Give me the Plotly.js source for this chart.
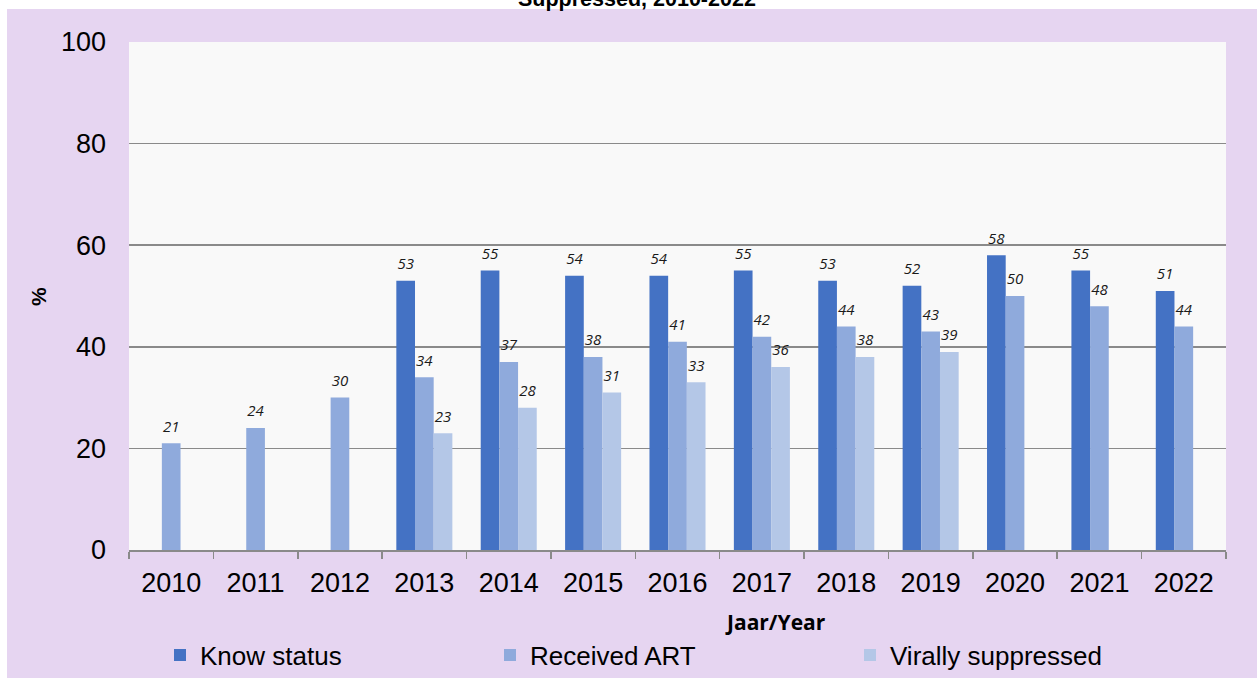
<!DOCTYPE html>
<html>
<head>
<meta charset="utf-8">
<script src="https://cdn.plot.ly/plotly-3.0.1.min.js"></script>
<style>
html,body{margin:0;padding:0;background:#ffffff;}
#chart{width:1257px;height:678px;}
</style>
</head>
<body>
<div id="chart"></div>
<script>
// ---- data ----
var years = ['2010','2011','2012','2013','2014','2015','2016','2017','2018','2019','2020','2021','2022'];
var knowStatus = [null, null, null, 53, 55, 54, 54, 55, 53, 52, 58, 55, 51];
var receivedART = [21, 24, 30, 34, 37, 38, 41, 42, 44, 43, 50, 48, 44];
var virallySuppressed = [null, null, null, 23, 28, 31, 33, 36, 38, 39, null, null, null];
var seriesNames = ['Know status', 'Received ART', 'Virally suppressed'];
var yTicks = [0, 20, 40, 60, 80, 100];
var titleText = 'Suppressed, 2010-2022';
var xTitleText = 'Jaar/Year';
var yTitleText = '%';

// ---- layout constants ----
var W = 1257, H = 678;
var M = {l: 129, r: 31, t: 42, b: 128};
var PW = W - M.l - M.r, PH = H - M.t - M.b;
function px2x(px){ return (px - M.l) / PW; }
function py2y(py){ return (H - M.b - py) / PH; }
var GAP = 0.336;

var colors = ['#4472c4', '#8faadc', '#b4c7e7'];
var labelFont = {family: 'Open Sans, Arial, sans-serif', size: 15, color: '#1a1a1a', style: 'italic'};
var seriesList = [knowStatus, receivedART, virallySuppressed];
var legendIds = ['legend', 'legend2', 'legend3'];

var data = [];
seriesList.forEach(function(vals, i){
  data.push({
    type: 'bar',
    x: years,
    y: vals,
    name: seriesNames[i],
    legend: legendIds[i],
    marker: {color: colors[i], line: {width: 0}},
    hoverinfo: 'x+y+name'
  });
});
// value labels: text-only scatter traces grouped like the bars
seriesList.forEach(function(vals, i){
  data.push({
    type: 'scatter',
    mode: 'markers+text',
    orientation: 'v',
    x: years,
    y: vals,
    text: vals.map(function(v){ return v === null ? '' : String(v); }),
    textposition: 'top center',
    textfont: labelFont,
    marker: {size: 11, color: 'rgba(0,0,0,0)'},
    showlegend: false,
    cliponaxis: false,
    hoverinfo: 'skip'
  });
});

var legendFont = {family: 'Liberation Sans, Arial, sans-serif', size: 26, color: '#000000'};
function legendAt(px){
  return {
    xref: 'container', yref: 'container',
    x: px / W, xanchor: 'left',
    y: 1 - 655 / H, yanchor: 'middle',
    orientation: 'h',
    bgcolor: 'rgba(0,0,0,0)',
    borderwidth: 0,
    font: legendFont,
    itemclick: false, itemdoubleclick: false
  };
}

var layout = {
  width: W, height: H,
  margin: M,
  paper_bgcolor: '#ffffff',
  plot_bgcolor: 'rgba(0,0,0,0)',
  barmode: 'group',
  bargap: GAP,
  bargroupgap: 0,
  scattermode: 'group',
  scattergap: GAP,
  showlegend: true,
  legend: legendAt(160),
  legend2: legendAt(490),
  legend3: legendAt(850),
  xaxis: {
    type: 'category',
    tickson: 'boundaries',
    ticks: 'outside',
    ticklen: 7,
    tickwidth: 1.5,
    tickcolor: '#8a8a8a',
    showline: true,
    linecolor: '#8a8a8a',
    linewidth: 1.5,
    showgrid: false,
    tickfont: {family: 'Liberation Sans, Arial, sans-serif', size: 27, color: '#000000'},
    ticklabelstandoff: 8,
    automargin: false,
    fixedrange: true
  },
  yaxis: {
    range: [0, 100],
    tickvals: yTicks,
    ticktext: yTicks.map(String),
    showgrid: true,
    gridcolor: '#8a8a8a',
    gridwidth: 1.5,
    zeroline: false,
    showline: false,
    ticks: '',
    tickfont: {family: 'Liberation Sans, Arial, sans-serif', size: 27, color: '#000000'},
    ticklabelstandoff: 22,
    automargin: false,
    fixedrange: true
  },
  shapes: [
    {type: 'rect', xref: 'paper', yref: 'paper', layer: 'below',
     x0: px2x(7), x1: px2x(W + 2), y0: py2y(H + 2), y1: py2y(9),
     fillcolor: '#e6d5f1', line: {width: 0}},
    {type: 'rect', xref: 'paper', yref: 'paper', layer: 'below',
     x0: 0, x1: 1, y0: 0, y1: 1,
     fillcolor: '#f9f9f9', line: {width: 0}}
  ],
  annotations: [
    {text: titleText, xref: 'paper', yref: 'paper', x: px2x(637), y: py2y(-1), xanchor: 'center', yanchor: 'middle',
     showarrow: false, font: {family: 'Liberation Sans, Arial, sans-serif', size: 21.5, color: '#000000', weight: 'bold'}},
    {text: '<b>' + xTitleText + '</b>', xref: 'paper', yref: 'paper', x: px2x(775), y: py2y(622), xanchor: 'center', yanchor: 'middle',
     showarrow: false, font: {family: 'Open Sans, sans-serif', size: 21, color: '#000000'}},
    {text: '<b>' + yTitleText + '</b>', xref: 'paper', yref: 'paper', x: px2x(38), y: py2y(297), xanchor: 'center', yanchor: 'middle',
     textangle: -90, showarrow: false, font: {family: 'Liberation Sans, Arial, sans-serif', size: 21, color: '#000000'}}
  ]
};

Plotly.newPlot('chart', data, layout, {displayModeBar: false, staticPlot: true});
</script>
</body>
</html>
